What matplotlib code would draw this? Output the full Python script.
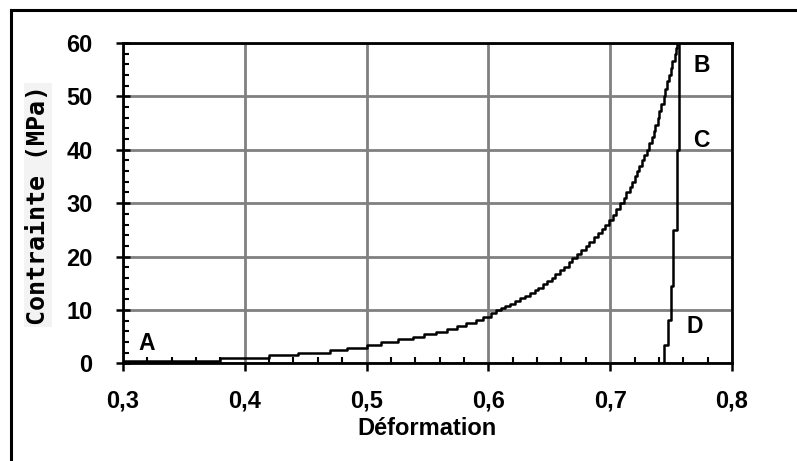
import matplotlib
matplotlib.use("Agg")
import matplotlib.pyplot as plt
from matplotlib.lines import Line2D
from matplotlib.ticker import MultipleLocator, FuncFormatter

# Courbe de chargement A -> B
charge_x = [0.300, 0.380, 0.420, 0.444, 0.470, 0.484, 0.500, 0.512, 0.526, 0.538,
            0.547, 0.557, 0.566, 0.574, 0.582, 0.590, 0.596,
            0.602, 0.606, 0.610, 0.614, 0.618, 0.622, 0.626, 0.630, 0.634, 0.638,
            0.641, 0.645, 0.648, 0.652, 0.655, 0.659, 0.662, 0.666, 0.669, 0.673,
            0.676, 0.680, 0.683, 0.687, 0.690, 0.693, 0.696, 0.699, 0.702, 0.705,
            0.708, 0.711, 0.713, 0.716, 0.718, 0.720, 0.722, 0.724, 0.726, 0.728,
            0.730, 0.732, 0.734, 0.736, 0.737, 0.739, 0.740, 0.742, 0.744, 0.745,
            0.747, 0.748, 0.750, 0.751, 0.753, 0.754, 0.755]
charge_y = [0.5, 1.0, 1.5, 2.0, 2.5, 2.9, 3.5, 4.0, 4.6, 5.0,
            5.4, 5.9, 6.4, 6.9, 7.5, 8.1, 8.7,
            9.5, 9.9, 10.3, 10.7, 11.2, 11.7, 12.2, 12.7, 13.2, 13.7,
            14.2, 14.8, 15.4, 16.0, 16.7, 17.4, 18.1, 18.9, 19.7, 20.5,
            21.3, 22.0, 22.8, 23.6, 24.4, 25.2, 26.0, 26.9, 27.8, 28.9,
            30.0, 31.0, 32.0, 33.0, 34.0, 35.0, 36.0, 37.0, 38.0, 39.0,
            40.0, 41.2, 42.4, 43.6, 44.7, 46.0, 47.2, 48.6, 50.0, 51.4,
            52.8, 54.1, 55.4, 56.7, 58.0, 59.0, 60.0]

# Décharge B -> C -> D
decharge_x = [0.7565, 0.7546, 0.7518, 0.7497, 0.7472, 0.7442, 0.7442]
decharge_y = [60.0, 40.0, 25.0, 14.4, 8.1, 3.4, 0.0]

# Repères des points
points = ["A", "B", "C", "D"]
points_x = [0.3123, 0.7686, 0.7678, 0.7629]
points_y = [2.5, 54.5, 40.6, 5.7]

fig = plt.figure(figsize=(7.97, 4.61), dpi=100)
ax = fig.add_axes([0.1543, 0.2119, 0.7641, 0.6948])

ax.plot(charge_x, charge_y, color="black", lw=1.8, drawstyle="steps-post", zorder=3)
ax.plot(decharge_x, decharge_y, color="black", lw=1.8, drawstyle="steps-pre", zorder=3)

for lab, px, py in zip(points, points_x, points_y):
    ax.text(px, py, lab, fontsize=16.5, fontweight="bold", family="Liberation Sans",
            ha="left", va="baseline")

ax.set_xlim(0.3, 0.8)
ax.set_ylim(0, 60)
ax.xaxis.set_major_locator(MultipleLocator(0.1))
ax.xaxis.set_minor_locator(MultipleLocator(0.02))
ax.yaxis.set_major_locator(MultipleLocator(10))
ax.yaxis.set_minor_locator(MultipleLocator(2))
ax.xaxis.set_major_formatter(FuncFormatter(lambda v, p: f"{v:.1f}".replace(".", ",")))

ax.grid(True, which="major", color="#808080", lw=2.0, zorder=1)
ax.set_axisbelow(True)

for s in ax.spines.values():
    s.set_linewidth(2.0)
    s.set_color("black")

ax.tick_params(axis="x", which="major", direction="out", length=6, width=1.8, pad=13)
ax.tick_params(axis="y", which="major", direction="inout", length=10, width=1.8, pad=17)
ax.tick_params(which="minor", direction="in", length=4.5, width=1.5)
for t in ax.get_xticklabels() + ax.get_yticklabels():
    t.set_fontsize(17)
    t.set_fontweight("bold")
    t.set_family("Liberation Sans")

ax.set_xlabel("Déformation", fontsize=17, fontweight="bold", family="Liberation Sans",
              labelpad=3)

fig.text(0.0477, 0.5553, "Contrainte (MPa)", rotation=90, ha="center", va="center",
         fontsize=18, fontweight="bold", family="DejaVu Sans Mono",
         bbox=dict(facecolor="#f3f3f3", edgecolor="none", pad=1.5))

# cadre extérieur
fig.add_artist(Line2D([11 / 797, 11 / 797], [0, 1 - 10 / 461], color="black", lw=2.2,
                      transform=fig.transFigure))
fig.add_artist(Line2D([11 / 797, 1], [1 - 10 / 461, 1 - 10 / 461], color="black", lw=2.2,
                      transform=fig.transFigure))

fig.savefig("out.png", dpi=100)
